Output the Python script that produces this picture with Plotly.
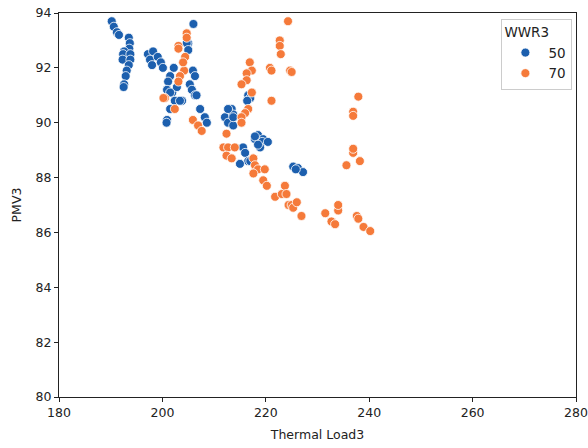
import plotly.graph_objects as go

# WWR3 = 50 (blue)
load_50 = [190.2, 190.6, 191.2, 191.6, 193.5, 193.7, 193.6, 192.6, 192.4, 193.8, 192.3, 193.8, 193.5, 193.1, 192.9, 192.6, 192.5,
           197.2, 198.2, 197.6, 198.0, 199.1, 199.7, 200.1, 202.2,
           201.5, 201.1, 200.9, 201.9, 202.8, 203.8, 201.5, 200.9, 200.8, 201.5, 202.4, 203.4,
           205.3, 205.7, 205.0, 204.7, 205.0, 206.0, 205.9, 206.3, 206.3, 206.6, 207.3, 208.2, 208.6,
           212.1, 213.4, 213.7, 212.7, 213.7, 212.7, 213.7, 216.6, 217.0, 216.4,
           218.5, 217.9, 219.5, 219.3, 220.4, 218.9, 215.6, 216.0, 216.6, 215.0, 217.9, 218.5, 217.0,
           225.3, 226.2, 227.2, 225.8]
pmv_50 = [93.7, 93.5, 93.3, 93.2, 93.1, 92.9, 92.7, 92.6, 92.5, 92.5, 92.3, 92.3, 92.1, 91.9, 91.7, 91.4, 91.3,
          92.5, 92.6, 92.3, 92.1, 92.4, 92.2, 92.0, 92.0,
          91.7, 91.5, 91.2, 91.1, 91.3, 90.8, 90.5, 90.1, 90.0, 91.1, 90.8, 90.8,
          91.4, 91.2, 92.9, 92.9, 92.65, 93.6, 91.9, 91.7, 91.0, 91.0, 90.5, 90.2, 90.0,
          90.2, 90.5, 90.3, 90.0, 89.9, 90.5, 90.2, 91.0, 90.9, 90.8,
          89.55, 89.4, 89.4, 89.3, 89.3, 89.1, 89.1, 88.9, 88.6, 88.5, 89.5, 89.2, 88.6,
          88.4, 88.35, 88.2, 88.3]

# WWR3 = 70 (orange)
load_70 = [204.7, 204.7, 203.1, 204.4, 204.2, 203.4, 203.1, 200.5, 202.4, 205.9, 206.9, 207.6, 204.0, 200.2, 203.1,
           216.9, 217.3, 216.3, 216.3, 215.3, 217.3, 216.6, 216.0, 215.3, 215.3,
           220.8, 221.1, 221.1, 222.7, 222.7, 222.9, 224.3, 224.7, 225.0,
           212.4, 211.8, 212.7, 214.0, 212.4, 213.4, 217.6, 217.9, 218.5, 217.6, 219.8, 219.5, 220.2,
           221.8, 223.1, 223.7, 224.4, 224.0, 225.0, 225.3, 226.0, 226.9,
           231.5, 232.7, 233.4, 234.0, 234.0,
           237.6, 237.9, 238.9, 240.2,
           236.9, 238.2, 235.6, 236.9, 237.9, 236.9, 236.9]
pmv_70 = [93.26, 93.1, 92.8, 92.4, 91.9, 91.7, 91.5, 90.9, 90.5, 90.1, 89.9, 89.7, 92.2, 90.9, 92.7,
          92.2, 91.9, 91.8, 91.55, 91.4, 91.1, 90.5, 90.35, 90.2, 90.0,
          92.0, 91.9, 90.8, 93.0, 92.8, 92.5, 93.7, 91.9, 91.85,
          89.6, 89.1, 89.1, 89.1, 88.8, 88.7, 88.7, 88.45, 88.3, 88.15, 88.3, 87.9, 87.7,
          87.3, 87.4, 87.7, 87.0, 87.4, 87.0, 86.9, 87.1, 86.6,
          86.7, 86.4, 86.3, 86.8, 87.0,
          86.6, 86.5, 86.2, 86.05,
          88.9, 88.6, 88.45, 89.05, 90.95, 90.4, 90.25]

x_ticks = [180, 200, 220, 240, 260, 280]
y_ticks = [80, 82, 84, 86, 88, 90, 92, 94]

BLUE = "#1c5fae"
ORANGE = "#f57a3a"
FONT = "DejaVu Sans"

fig = go.Figure()
for name, xs, ys, col in [("50", load_50, pmv_50, BLUE), ("70", load_70, pmv_70, ORANGE)]:
    fig.add_trace(go.Scatter(
        x=xs, y=ys, mode="markers", name=name,
        marker=dict(size=9, color=col, line=dict(color="white", width=0.8)),
    ))

axis_common = dict(
    showline=True, linecolor="#222", linewidth=1, mirror=True,
    ticks="outside", ticklen=4, tickcolor="#222", showgrid=False, zeroline=False,
    automargin=False,
    tickfont=dict(family=FONT, size=12.5, color="#222"),
)
fig.update_layout(
    width=588, height=448, autosize=False,
    margin=dict(l=59, r=12, t=13, b=51, pad=0),
    paper_bgcolor="white", plot_bgcolor="white",
    font=dict(family=FONT, size=12, color="#222"),
    xaxis=dict(range=[180, 280], tickvals=x_ticks,
               title=dict(text="Thermal Load3", font=dict(family=FONT, size=12.5, color="#222"), standoff=11),
               **axis_common),
    yaxis=dict(range=[80, 94], tickvals=y_ticks,
               title=dict(text="PMV3", font=dict(family=FONT, size=12.5, color="#222"), standoff=11),
               **axis_common),
    legend=dict(
        title=dict(text="WWR3", font=dict(family=FONT, size=13.5, color="#222")),
        x=0.993, y=0.985, xanchor="right", yanchor="top",
        bgcolor="rgba(255,255,255,0.8)", bordercolor="#cccccc", borderwidth=1,
        font=dict(family=FONT, size=13.5, color="#222"),
        itemwidth=36,
        tracegroupgap=4,
    ),
    showlegend=True,
)

fig.write_html("out.html", config={"displayModeBar": False},
               post_script="document.body.style.margin='0';document.body.style.padding='0';")
